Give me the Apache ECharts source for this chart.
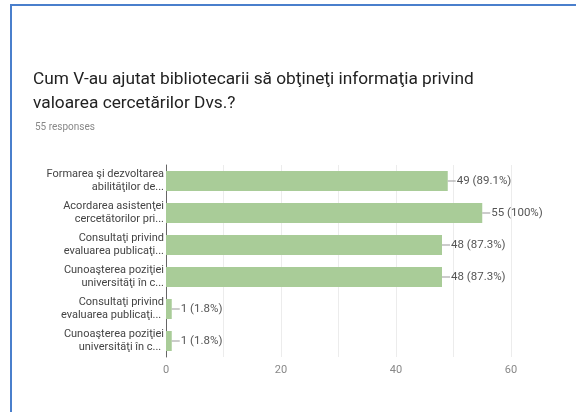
<!DOCTYPE html>
<html>
<head>
<meta charset="utf-8">
<script src="https://cdn.jsdelivr.net/npm/echarts@6/dist/echarts.min.js"></script>
<style>
  html, body { margin: 0; padding: 0; background: #fff; }
  #frame { position: absolute; left: 10px; top: 4px; width: 700px; height: 500px;
    border-left: 2px solid #4a7fcc; border-top: 2px solid #4a7fcc; }
  #main { position: absolute; left: 0; top: 0; width: 576px; height: 412px; }
</style>
</head>
<body>
<div id="frame"></div>
<div id="main"></div>
<script>
  var categories = [
    'Formarea şi dezvoltarea\nabilităţilor de...',
    'Acordarea asistenţei\ncercetătorilor pri...',
    'Consultaţi privind\nevaluarea publicaţi...',
    'Cunoaşterea poziţiei\nuniversităţi în c...',
    'Consultaţi privind\nevaluarea publicaţi... ',
    'Cunoaşterea poziţiei\nuniversităţi în c... '
  ];
  var counts = [49, 55, 48, 48, 1, 1];
  var percents = ['89.1%', '100%', '87.3%', '87.3%', '1.8%', '1.8%'];
  var xTicks = [0, 20, 40, 60];

  var myChart = echarts.init(document.getElementById('main'));
  var option = {
    textStyle: { fontFamily: 'Roboto, "Noto Sans", sans-serif' },
    title: [{
      text: 'Cum V-au ajutat bibliotecarii să obţineţi informaţia privind\nvaloarea cercetărilor Dvs.?',
      left: 33,
      top: 68,
      padding: 0,
      textStyle: { fontSize: 17.3, lineHeight: 24, fontWeight: 'normal', color: '#222' }
    }, {
      text: '55 responses',
      left: 35,
      top: 122,
      padding: 0,
      textStyle: { fontSize: 10, fontWeight: 'normal', color: '#888' }
    }],
    grid: { left: 166, right: 65, top: 165, bottom: 55 },
    xAxis: {
      type: 'value',
      min: xTicks[0],
      max: xTicks[xTicks.length - 1],
      interval: 20,
      axisLine: { show: false },
      axisTick: { show: false },
      axisLabel: { color: '#888', fontSize: 11, margin: 8 },
      splitLine: { lineStyle: { color: '#ececec' } },
      minorTick: { show: false, splitNumber: 2 },
      minorSplitLine: { show: true, lineStyle: { color: '#ececec' } }
    },
    yAxis: {
      type: 'category',
      inverse: true,
      data: categories,
      axisLine: { lineStyle: { color: '#666', width: 1 } },
      axisTick: { show: false },
      axisLabel: { color: '#444', fontSize: 11, lineHeight: 13, margin: 2, align: 'right' }
    },
    series: [{
      type: 'bar',
      data: counts,
      barWidth: 20,
      itemStyle: { color: '#a9cc98' },
      label: {
        show: true,
        position: 'right',
        distance: 0,
        formatter: function(p) {
          return '{line|}{t|' + counts[p.dataIndex] + ' (' + percents[p.dataIndex] + ')}';
        },
        rich: {
          line: { width: 8, height: 1, backgroundColor: '#999' },
          t: { color: '#555', fontSize: 11.5, padding: [0, 0, 0, 1] }
        }
      }
    }]
  };
  myChart.setOption(option);
</script>
</body>
</html>
